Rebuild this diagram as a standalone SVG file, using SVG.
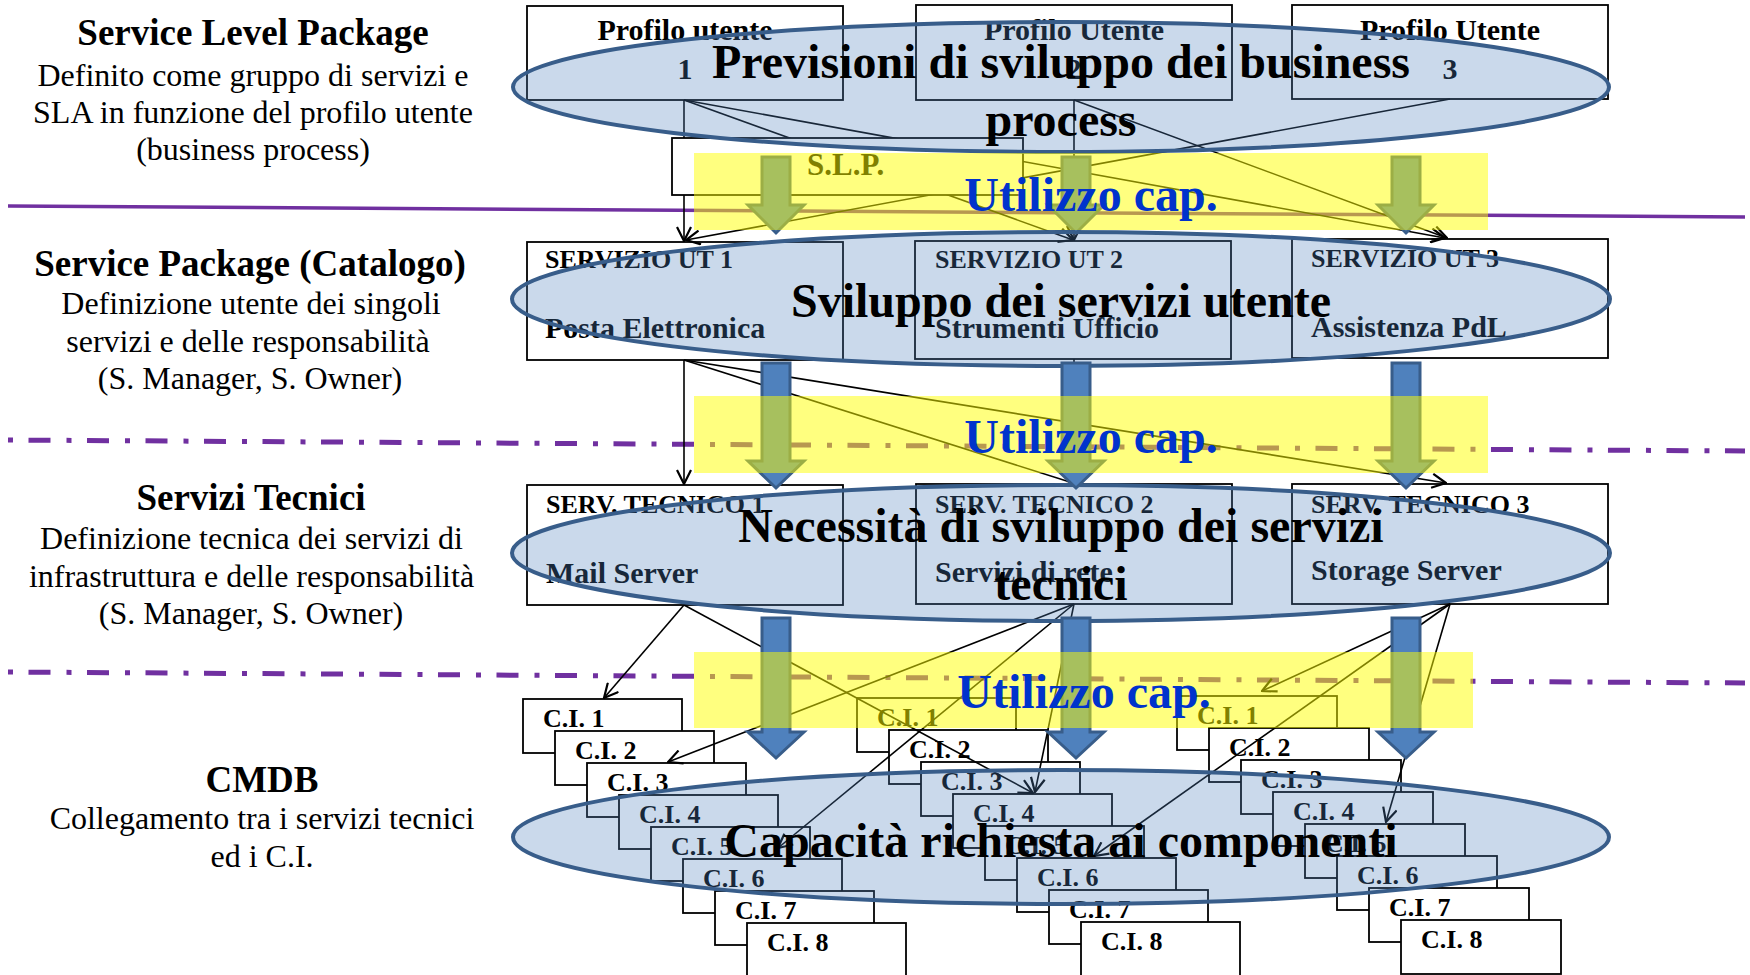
<svg xmlns="http://www.w3.org/2000/svg" width="1750" height="975" viewBox="0 0 1750 975">
<defs>
<style>
.bg{fill:#fff}
.box{fill:#fff;stroke:#000;stroke-width:1.8}
.ci{fill:#fff;stroke:#000;stroke-width:1.8}
.hd{font-family:"Liberation Serif","Times New Roman",serif;font-weight:bold;font-size:37px;fill:#000;text-anchor:middle}
.bd{font-family:"Liberation Serif","Times New Roman",serif;font-size:32px;fill:#000;text-anchor:middle}
.pt{font-family:"Liberation Serif","Times New Roman",serif;font-weight:bold;font-size:30px;fill:#000;text-anchor:middle}
.s1{font-family:"Liberation Serif","Times New Roman",serif;font-weight:bold;font-size:26px;fill:#000}
.s2{font-family:"Liberation Serif","Times New Roman",serif;font-weight:bold;font-size:30px;fill:#000}
.slp{font-family:"Liberation Serif","Times New Roman",serif;font-weight:bold;font-size:31px;fill:#000}
.cit{font-family:"Liberation Serif","Times New Roman",serif;font-weight:bold;font-size:26px;fill:#000}
.ell{fill:#4F81BD;fill-opacity:0.3;stroke:#385D8A;stroke-width:4}
.et{font-family:"Liberation Serif","Times New Roman",serif;font-weight:bold;font-size:48px;fill:#000;text-anchor:middle}
.arr{fill:#4F81BD;stroke:#385D8A;stroke-width:3}
.yel{fill:#FFFF00;fill-opacity:0.5}
.ut{font-family:"Liberation Serif","Times New Roman",serif;font-weight:bold;font-size:48px;fill:#0033CC;text-anchor:middle}
.con{stroke:#000;stroke-width:1.6;fill:none;marker-end:url(#oa)}
.div{stroke:#7030A0;fill:none}
</style>
<marker id="oa" viewBox="0 0 16 16" refX="15" refY="8" markerWidth="16" markerHeight="16" markerUnits="userSpaceOnUse" orient="auto">
<path d="M1,1 L15,8 L1,15" fill="none" stroke="#000" stroke-width="2.2"/>
</marker>
</defs>
<rect class="bg" x="0" y="0" width="1750" height="975"/>

<g id="dividers">
<line class="div" x1="8" y1="206" x2="1745" y2="217" stroke-width="3.5"/>
<line class="div" x1="8" y1="440" x2="1745" y2="451" stroke-width="5" stroke-dasharray="5 15.5 22 16"/>
<line class="div" x1="8" y1="672" x2="1745" y2="683" stroke-width="5" stroke-dasharray="5 15.5 22 16"/>
</g>

<g id="labels">
<text class="hd" x="253" y="45">Service Level Package</text>
<text class="bd" x="253" y="86">Definito come gruppo di servizi e</text>
<text class="bd" x="253" y="123">SLA in funzione del profilo utente</text>
<text class="bd" x="253" y="160">(business process)</text>
<text class="hd" x="250" y="276">Service Package (Catalogo)</text>
<text class="bd" x="251" y="314">Definizione utente dei singoli</text>
<text class="bd" x="248" y="352">servizi e delle responsabilità</text>
<text class="bd" x="250" y="389">(S. Manager, S. Owner)</text>
<text class="hd" x="251" y="510">Servizi Tecnici</text>
<text class="bd" x="251.5" y="549">Definizione tecnica dei servizi di</text>
<text class="bd" x="251.5" y="587">infrastruttura e delle responsabilità</text>
<text class="bd" x="251" y="624">(S. Manager, S. Owner)</text>
<text class="hd" x="262" y="792">CMDB</text>
<text class="bd" x="262" y="829">Collegamento tra i servizi tecnici</text>
<text class="bd" x="262" y="867">ed i C.I.</text>
</g>

<g id="profilo1"><rect class="box" x="527" y="6" width="316" height="94"/><text class="pt" x="685" y="40">Profilo utente</text><text class="pt" x="685" y="79">1</text></g>
<g id="profilo2"><rect class="box" x="916" y="5" width="316" height="95"/><text class="pt" x="1074" y="40">Profilo Utente</text><text class="pt" x="1074" y="79">2</text></g>
<g id="profilo3"><rect class="box" x="1292" y="5" width="316" height="94"/><text class="pt" x="1450" y="40">Profilo Utente</text><text class="pt" x="1450" y="79">3</text></g>

<g id="servizio1"><rect class="box" x="527" y="242" width="316" height="118"/><text class="s1" x="545" y="268">SERVIZIO UT 1</text><text class="s2" x="545" y="338">Posta Elettronica</text></g>
<g id="servizio2"><rect class="box" x="915" y="241" width="316" height="118"/><text class="s1" x="935" y="268">SERVIZIO UT 2</text><text class="s2" x="935" y="338">Strumenti Ufficio</text></g>
<g id="servizio3"><rect class="box" x="1292" y="239" width="316" height="119"/><text class="s1" x="1311" y="267">SERVIZIO UT 3</text><text class="s2" x="1311" y="337">Assistenza PdL</text></g>

<g id="tecnico1"><rect class="box" x="527" y="485" width="316" height="120"/><text class="s1" x="546" y="513">SERV. TECNICO 1</text><text class="s2" x="546" y="583">Mail Server</text></g>
<g id="tecnico2"><rect class="box" x="916" y="484" width="316" height="120"/><text class="s1" x="935" y="513">SERV. TECNICO 2</text><text class="s2" x="935" y="582">Servizi di rete</text></g>
<g id="tecnico3"><rect class="box" x="1292" y="484" width="316" height="120"/><text class="s1" x="1311" y="513">SERV. TECNICO 3</text><text class="s2" x="1311" y="580">Storage Server</text></g>

<g id="ci-stack1">
<g id="c1-1"><rect class="ci" x="523" y="699" width="159" height="54"/><text class="cit" x="543" y="727">C.I. 1</text></g>
<g id="c1-2"><rect class="ci" x="555" y="731" width="159" height="54"/><text class="cit" x="575" y="759">C.I. 2</text></g>
<g id="c1-3"><rect class="ci" x="587" y="763" width="159" height="54"/><text class="cit" x="607" y="791">C.I. 3</text></g>
<g id="c1-4"><rect class="ci" x="619" y="795" width="159" height="54"/><text class="cit" x="639" y="823">C.I. 4</text></g>
<g id="c1-5"><rect class="ci" x="651" y="827" width="159" height="54"/><text class="cit" x="671" y="855">C.I. 5</text></g>
<g id="c1-6"><rect class="ci" x="683" y="859" width="159" height="54"/><text class="cit" x="703" y="887">C.I. 6</text></g>
<g id="c1-7"><rect class="ci" x="715" y="891" width="159" height="54"/><text class="cit" x="735" y="919">C.I. 7</text></g>
<g id="c1-8"><rect class="ci" x="747" y="923" width="159" height="54"/><text class="cit" x="767" y="951">C.I. 8</text></g>
</g>
<g id="ci-stack2">
<g id="c2-1"><rect class="ci" x="857" y="698" width="159" height="54"/><text class="cit" x="877" y="726">C.I. 1</text></g>
<g id="c2-2"><rect class="ci" x="889" y="730" width="159" height="54"/><text class="cit" x="909" y="758">C.I. 2</text></g>
<g id="c2-3"><rect class="ci" x="921" y="762" width="159" height="54"/><text class="cit" x="941" y="790">C.I. 3</text></g>
<g id="c2-4"><rect class="ci" x="953" y="794" width="159" height="54"/><text class="cit" x="973" y="822">C.I. 4</text></g>
<g id="c2-5"><rect class="ci" x="985" y="826" width="159" height="54"/><text class="cit" x="1005" y="854">C.I. 5</text></g>
<g id="c2-6"><rect class="ci" x="1017" y="858" width="159" height="54"/><text class="cit" x="1037" y="886">C.I. 6</text></g>
<g id="c2-7"><rect class="ci" x="1049" y="890" width="159" height="54"/><text class="cit" x="1069" y="918">C.I. 7</text></g>
<g id="c2-8"><rect class="ci" x="1081" y="922" width="159" height="54"/><text class="cit" x="1101" y="950">C.I. 8</text></g>
</g>
<g id="ci-stack3">
<g id="c3-1"><rect class="ci" x="1177" y="696" width="160" height="54"/><text class="cit" x="1197" y="724">C.I. 1</text></g>
<g id="c3-2"><rect class="ci" x="1209" y="728" width="160" height="54"/><text class="cit" x="1229" y="756">C.I. 2</text></g>
<g id="c3-3"><rect class="ci" x="1241" y="760" width="160" height="54"/><text class="cit" x="1261" y="788">C.I. 3</text></g>
<g id="c3-4"><rect class="ci" x="1273" y="792" width="160" height="54"/><text class="cit" x="1293" y="820">C.I. 4</text></g>
<g id="c3-5"><rect class="ci" x="1305" y="824" width="160" height="54"/><text class="cit" x="1325" y="852">C.I. 5</text></g>
<g id="c3-6"><rect class="ci" x="1337" y="856" width="160" height="54"/><text class="cit" x="1357" y="884">C.I. 6</text></g>
<g id="c3-7"><rect class="ci" x="1369" y="888" width="160" height="54"/><text class="cit" x="1389" y="916">C.I. 7</text></g>
<g id="c3-8"><rect class="ci" x="1401" y="920" width="160" height="54"/><text class="cit" x="1421" y="948">C.I. 8</text></g>
</g>

<g id="connectors">
<line class="con" x1="684" y1="100" x2="684" y2="241"/>
<line class="con" x1="684" y1="100" x2="1073" y2="240"/>
<line class="con" x1="684" y1="100" x2="1445" y2="238"/>
<line class="con" x1="1074" y1="100" x2="1074" y2="240"/>
<line class="con" x1="1074" y1="100" x2="1447" y2="238"/>
<line class="con" x1="1450" y1="99" x2="686" y2="240"/>
<line class="con" x1="684" y1="360" x2="684" y2="484"/>
<line class="con" x1="684" y1="360" x2="1073" y2="483"/>
<line class="con" x1="684" y1="360" x2="1446" y2="483"/>
<line class="con" x1="1074" y1="359" x2="1074" y2="483"/>
<line class="con" x1="684" y1="605" x2="604" y2="698"/>
<line class="con" x1="684" y1="605" x2="1033" y2="793"/>
<line class="con" x1="1074" y1="604" x2="668" y2="762"/>
<line class="con" x1="1074" y1="604" x2="778" y2="848"/>
<line class="con" x1="1074" y1="604" x2="1035" y2="792"/>
<line class="con" x1="1450" y1="604" x2="1262" y2="691"/>
<line class="con" x1="1450" y1="604" x2="1094" y2="856"/>
<line class="con" x1="1450" y1="604" x2="1386" y2="822"/>
</g>

<g id="slp"><rect class="box" x="672" y="138" width="351" height="57"/><text class="slp" x="807" y="175">S.L.P.</text></g>

<g id="ellipse1"><ellipse class="ell" cx="1061" cy="87" rx="548" ry="65"/><text class="et" x="1061" y="78">Previsioni di sviluppo dei business</text><text class="et" x="1061" y="136">process</text></g>
<g id="ellipse2"><ellipse class="ell" cx="1061" cy="299" rx="549" ry="67"/><text class="et" x="1061" y="317">Sviluppo dei servizi utente</text></g>
<g id="ellipse3"><ellipse class="ell" cx="1061" cy="553" rx="549" ry="68"/><text class="et" x="1061" y="542">Necessità di sviluppo dei servizi</text><text class="et" x="1061" y="600">tecnici</text></g>
<g id="ellipse4"><ellipse class="ell" cx="1061" cy="837" rx="548" ry="67"/><text class="et" x="1061" y="857">Capacità richiesta ai componenti</text></g>

<g id="flow-arrows">
<polygon class="arr" points="762,157 790,157 790,205 804,205 776,233 748,205 762,205"/>
<polygon class="arr" points="1062,157 1090,157 1090,205 1104,205 1076,233 1048,205 1062,205"/>
<polygon class="arr" points="1392,157 1420,157 1420,205 1434,205 1406,233 1378,205 1392,205"/>
<polygon class="arr" points="762,363 790,363 790,461 804,461 776,488 748,461 762,461"/>
<polygon class="arr" points="1062,363 1090,363 1090,461 1104,461 1076,488 1048,461 1062,461"/>
<polygon class="arr" points="1392,363 1420,363 1420,461 1434,461 1406,488 1378,461 1392,461"/>
<polygon class="arr" points="762,618 790,618 790,732 804,732 776,758 748,732 762,732"/>
<polygon class="arr" points="1062,618 1090,618 1090,732 1104,732 1076,758 1048,732 1062,732"/>
<polygon class="arr" points="1392,618 1420,618 1420,732 1434,732 1406,758 1378,732 1392,732"/>
</g>

<g id="band1"><rect class="yel" x="694" y="153" width="794" height="77"/><text class="ut" x="1091" y="211">Utilizzo cap.</text></g>
<g id="band2"><rect class="yel" x="694" y="396" width="794" height="77"/><text class="ut" x="1091" y="453">Utilizzo cap.</text></g>
<g id="band3"><rect class="yel" x="694" y="652" width="779" height="76"/><text class="ut" x="1084" y="708">Utilizzo cap.</text></g>
</svg>
